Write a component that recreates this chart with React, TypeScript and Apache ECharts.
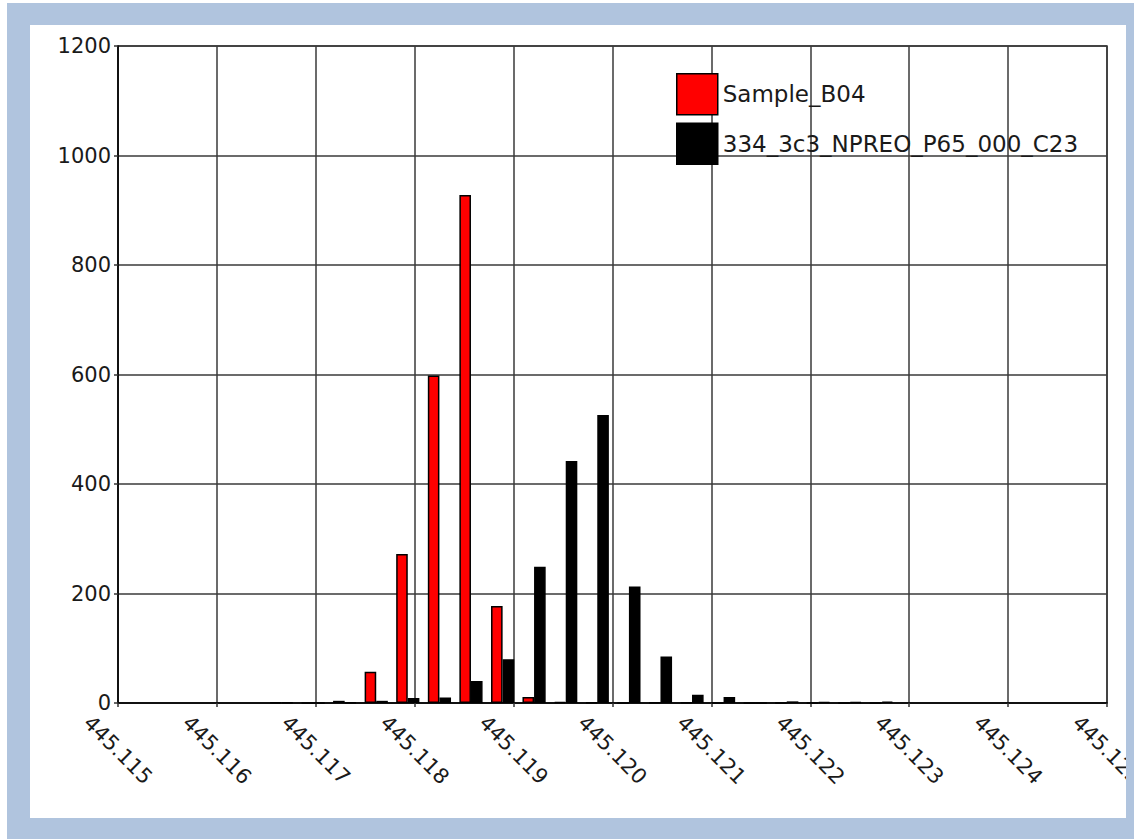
import React, { useEffect, useRef } from "react";
import * as echarts from "echarts";

// Bin centres (m/z) shared by both series
const binCenters = [
  445.116653, 445.116973, 445.117292, 445.117611, 445.11793, 445.11825,
  445.118569, 445.118889, 445.119207, 445.119527, 445.119846, 445.120166,
  445.120485, 445.120804, 445.121123, 445.121443, 445.121762, 445.122081,
  445.1224, 445.12272,
];
const sampleB04 = [1, 0, 4, 57, 272, 598, 928, 177, 11, 2, 1, 0, 1, 1, 0, 0, 0, 0, 0, 0];
const reference334 = [1, 0, 1, 4, 9, 10, 40, 80, 249, 442, 526, 213, 85, 15, 11, 0, 3, 1.5, 1.5, 2.5];
const seriesNames = ["Sample_B04", "334_3c3_NPREO_P65_000_C23"];
const xMin = 445.115;
const xMax = 445.125;
const xStep = 0.001;
const yMin = 0;
const yMax = 1200;
const yStep = 200;

const FONT = "DejaVu Sans";
const FRAME = "#B0C4DE";

export default function App() {
  const ref = useRef<HTMLDivElement>(null);
  useEffect(() => {
    if (!ref.current) return;
    const chart = echarts.init(ref.current, null, { renderer: "svg" });
    const pair = (vals: number[]) => binCenters.map((x, i) => [x, vals[i]]);
    chart.setOption({
      animation: false,
      backgroundColor: "#ffffff",
      grid: {
        left: 118,
        top: 46,
        right: 27,
        bottom: 136,
        containLabel: false,
        outerBoundsMode: "none",
        show: true,
        borderColor: "#333",
        borderWidth: 1.5,
        backgroundColor: "transparent",
      },
      legend: {
        orient: "vertical",
        left: 676,
        top: 73,
        padding: 0,
        itemWidth: 41,
        itemHeight: 41,
        itemGap: 7,
        icon: "rect",
        selectedMode: false,
        itemStyle: { borderColor: "#000", borderWidth: 1.5 },
        textStyle: { fontFamily: FONT, fontSize: 23, color: "#1a1a1a" },
        data: seriesNames,
      },
      xAxis: {
        type: "value",
        min: xMin,
        max: xMax,
        interval: xStep,
        axisLine: { show: true, lineStyle: { color: "#000", width: 1.5 } },
        axisTick: { show: true, length: 4, lineStyle: { color: "#333", width: 1.5 } },
        splitLine: { show: true, lineStyle: { color: "#3a3a3a", width: 1.5 } },
        axisLabel: {
          rotate: -45,
          margin: 47,
          align: "center",
          verticalAlign: "middle",
          fontFamily: FONT,
          fontSize: 21,
          color: "#1a1a1a",
          showMinLabel: true,
          showMaxLabel: true,
          hideOverlap: false,
          formatter: (v: number) => v.toFixed(3),
        },
      },
      yAxis: {
        type: "value",
        min: yMin,
        max: yMax,
        interval: yStep,
        axisLine: { show: true, lineStyle: { color: "#000", width: 1.5 } },
        axisTick: { show: true, length: 4, lineStyle: { color: "#333", width: 1.5 } },
        splitLine: { show: true, lineStyle: { color: "#3a3a3a", width: 1.5 } },
        axisLabel: {
          margin: 7,
          fontFamily: FONT,
          fontSize: 21,
          color: "#1a1a1a",
          formatter: (v: number) => String(v),
        },
      },
      series: [
        {
          name: seriesNames[0],
          type: "bar",
          data: pair(sampleB04),
          barWidth: 11.6,
          barGap: "0%",
          itemStyle: { color: "#ff0000", borderColor: "#000", borderWidth: 1.5 },
        },
        {
          name: seriesNames[1],
          type: "bar",
          data: pair(reference334),
          barWidth: 11.6,
          barGap: "0%",
          itemStyle: { color: "#000000", borderColor: "#000", borderWidth: 1.5 },
        },
      ],
      graphic: [
        { type: "rect", z: 100, shape: { x: 7, y: 3, width: 1127, height: 22 }, style: { fill: FRAME } },
        { type: "rect", z: 100, shape: { x: 7, y: 3, width: 23, height: 836 }, style: { fill: FRAME } },
        { type: "rect", z: 100, shape: { x: 1126, y: 3, width: 8, height: 836 }, style: { fill: FRAME } },
        { type: "rect", z: 100, shape: { x: 7, y: 818, width: 1127, height: 21 }, style: { fill: FRAME } },
      ],
    });
    return () => chart.dispose();
  }, []);
  return (
    <div
      ref={ref}
      style={{ position: "fixed", left: 0, top: 0, width: 1134, height: 839 }}
    />
  );
}
